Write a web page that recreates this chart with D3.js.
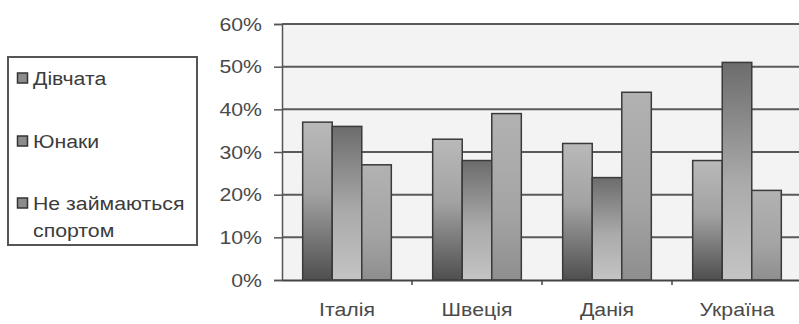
<!DOCTYPE html>
<html>
<head>
<meta charset="utf-8">
<script src="https://cdn.jsdelivr.net/npm/d3@7"></script>
<style>
  html, body { margin: 0; padding: 0; background: #fff; }
  svg { display: block; }
  text { font-family: "Liberation Sans", Arial, sans-serif; }
</style>
</head>
<body>
<div id="chart"></div>
<script>
// Частка учнів за країнами (%)
const countries = ["Італія", "Швеція", "Данія", "Україна"];
const seriesNames = ["Дівчата", "Юнаки", "Не займаються спортом"];
const girls = [37, 33, 32, 28];
const boys = [36, 28, 24, 51];
const noSport = [27, 39, 44, 21];
const yTicks = [0, 10, 20, 30, 40, 50, 60];

const seriesValues = [girls, boys, noSport];

const W = 799, H = 324;
const margin = { left: 282, top: 24, right: -3, bottom: 44 };
const plotW = W - margin.left - margin.right;
const plotH = H - margin.top - margin.bottom;
const FONT = 19, STRETCH = 1.12;

const svg = d3.select("#chart").append("svg")
  .attr("width", W).attr("height", H);

const defs = svg.append("defs");
// Vertical gradients for each series
const grads = [
  { id: "g0", stops: [["0%", "#b9b9b9"], ["45%", "#a2a2a2"], ["100%", "#4f4f4f"]] },
  { id: "g1", stops: [["0%", "#6c6c6c"], ["55%", "#aaaaaa"], ["100%", "#c4c4c4"]] },
  { id: "g2", stops: [["0%", "#b2b2b2"], ["60%", "#a4a4a4"], ["100%", "#8e8e8e"]] }
];
grads.forEach(g => {
  const lg = defs.append("linearGradient").attr("id", g.id)
    .attr("x1", 0).attr("y1", 0).attr("x2", 0).attr("y2", 1);
  g.stops.forEach(s => lg.append("stop").attr("offset", s[0]).attr("stop-color", s[1]));
});

const x = d3.scaleBand().domain(countries).range([0, plotW]).paddingInner(0).paddingOuter(0);
const inner = d3.scaleBand().domain(d3.range(seriesNames.length))
  .range([0, x.bandwidth()]).paddingInner(0).paddingOuter(0.7);
const y = d3.scaleLinear().domain([0, 60]).range([plotH, 0]);

const g = svg.append("g").attr("transform", `translate(${margin.left},${margin.top})`);

// plot background
g.append("rect").attr("x", 0).attr("y", 0).attr("width", plotW).attr("height", plotH)
  .attr("fill", "#f3f3f3");

// gridlines
g.append("g").selectAll("line").data(yTicks.filter(t => t > 0)).join("line")
  .attr("x1", 0).attr("x2", plotW)
  .attr("y1", d => y(d)).attr("y2", d => y(d))
  .attr("stroke", "#5a5a5a").attr("stroke-width", 2);

// y axis
const yAxis = g.append("g").call(
  d3.axisLeft(y).tickValues(yTicks).tickFormat(d => d + "%").tickSize(8).tickPadding(12)
);
yAxis.select(".domain").attr("stroke", "#555").attr("stroke-width", 1.5);
yAxis.selectAll(".tick line").attr("stroke", "#555").attr("stroke-width", 1.5);
yAxis.selectAll(".tick text")
  .attr("x", 0)
  .attr("transform", `translate(-20,0) scale(${STRETCH},1)`)
  .attr("fill", "#4a4a4a").style("font-size", FONT + "px")
  .style("font-family", "'Liberation Sans', Arial, sans-serif");

// bars
countries.forEach((c, ci) => {
  seriesValues.forEach((vals, si) => {
    g.append("rect")
      .attr("x", x(c) + inner(si))
      .attr("y", y(vals[ci]))
      .attr("width", inner.bandwidth())
      .attr("height", plotH - y(vals[ci]))
      .attr("fill", `url(#g${si})`)
      .attr("stroke", "#3a3a3a").attr("stroke-width", 1.5);
  });
});

// x axis
const xAxis = g.append("g").attr("transform", `translate(0,${plotH})`)
  .call(d3.axisBottom(x).tickSize(0).tickPadding(23));
xAxis.select(".domain").attr("stroke", "#444").attr("stroke-width", 2);
xAxis.selectAll(".tick text")
  .attr("transform", `scale(${STRETCH},1)`)
  .attr("fill", "#4a4a4a").style("font-size", FONT + "px")
  .style("font-family", "'Liberation Sans', Arial, sans-serif");
// category boundary ticks
g.append("g").selectAll("line").data(countries.slice(1)).join("line")
  .attr("x1", d => x(d)).attr("x2", d => x(d))
  .attr("y1", plotH).attr("y2", plotH + 5)
  .attr("stroke", "#444").attr("stroke-width", 1.5);

// legend
const legend = svg.append("g");
legend.append("rect").attr("x", 8).attr("y", 57).attr("width", 189).attr("height", 188)
  .attr("fill", "#fff").attr("stroke", "#555").attr("stroke-width", 2);
const legendRows = [
  { lines: ["Дівчата"], y: 78 },
  { lines: ["Юнаки"], y: 141 },
  { lines: ["Не займаються", "спортом"], y: 203 }
];
legendRows.forEach((r, i) => {
  legend.append("rect").attr("x", 17.5).attr("y", r.y - 5).attr("width", 10).attr("height", 10)
    .attr("fill", "#8c8c8c").attr("stroke", "#333").attr("stroke-width", 1.5);
  r.lines.forEach((t, li) => {
    legend.append("text")
      .attr("transform", `translate(33,${r.y + li * 27}) scale(${STRETCH},1)`)
      .attr("dy", "0.35em").attr("fill", "#3c3c3c").style("font-size", FONT + "px").text(t);
  });
});
</script>
</body>
</html>
